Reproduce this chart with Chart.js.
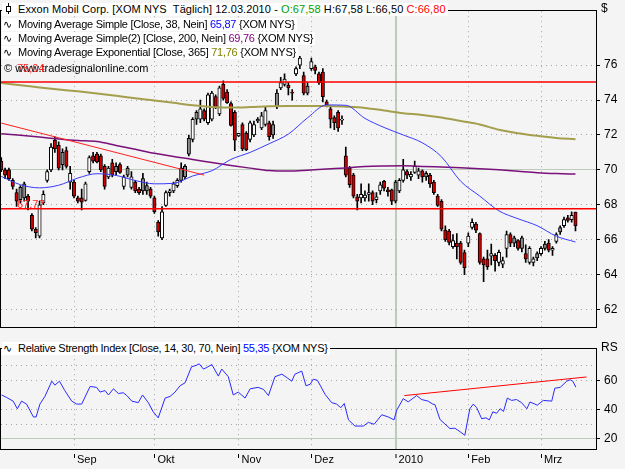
<!DOCTYPE html>
<html><head><meta charset="utf-8">
<script src="https://cdn.jsdelivr.net/npm/chart.js@4.4.0/dist/chart.umd.min.js"></script>
<style>
html,body{margin:0;padding:0;background:#f4f4f4;}
#wrap{position:relative;width:625px;height:469px;overflow:hidden;background:#f4f4f4;font-family:"Liberation Sans",Arial,sans-serif;font-size:11px;color:#000;}
canvas{position:absolute;left:0;}
#c1{top:0}
#c2{top:338px}
.lg{position:absolute;left:2px;white-space:nowrap;line-height:13px;height:13px;background:#fff;padding:0 2px 0 1px;letter-spacing:-0.27px;}
.lg.first{letter-spacing:0.08px;}
.ic{font-family:"DejaVu Sans";font-size:11px;display:inline-block;width:15px;letter-spacing:0;}
.txt{position:absolute;white-space:nowrap;line-height:13px;}
</style></head><body>
<div id="wrap">
<canvas id="c1" width="625" height="338"></canvas>
<canvas id="c2" width="625" height="131"></canvas>
<div class="lg first" style="top:3px"><svg width="15" height="11" style="vertical-align:-1px"><line x1="5.5" y1="0" x2="5.5" y2="11" stroke="#000"/><rect x="3.5" y="3.5" width="4" height="5" fill="#fff" stroke="#000"/></svg>Exxon Mobil Corp. [XOM NYS&nbsp; Täglich] 12.03.2010 - <span style="color:#00a000">O:67,58</span> H:67,58 L:66,50 <span style="color:#ff0000">C:66,80</span></div>
<div class="lg" style="top:18px"><span class="ic">∿</span>Moving Average Simple [Close, 38, Nein] <span style="color:#0000ff">65,87</span> {XOM NYS}</div>
<div class="lg" style="top:32px"><span class="ic">∿</span>Moving Average Simple(2) [Close, 200, Nein] <span style="color:#800080">69,76</span> {XOM NYS}</div>
<div class="lg" style="top:46px"><span class="ic">∿</span>Moving Average Exponential [Close, 365] <span style="color:#808000">71,76</span> {XOM NYS}</div>
<div class="txt" style="top:62px;left:4px">© www.tradesignalonline.com</div>
<div class="txt" style="top:62px;left:17px;color:#ff2020">75,04</div>
<div class="txt" style="top:198px;left:17px;color:#ff2020">67,77</div>
<div class="txt" style="top:2px;left:601px;font-size:12px">$</div>
<div class="lg" style="top:342px"><span class="ic">∿</span>Relative Strength Index [Close, 14, 30, 70, Nein] <span style="color:#0000ff">55,35</span> {XOM NYS}</div>
<div class="txt" style="top:341px;left:601px;font-size:12px">RS</div>
</div>
<script>
// ---- data (trading-day index 0 = first visible bar) ----
const opens = [70.5,70.0,70.0,69.4,68.7,69.0,69.2,68.5,67.4,66.6,66.2,68.1,69.4,70.0,71.7,71.4,71.0,71.1,69.3,69.3,
68.4,68.4,68.25,69.9,70.8,70.9,70.8,70.2,69.6,70.4,70.2,70.3,69.05,70.1,69.0,69.3,68.9,69.5,69.1,68.9,
68.4,67.0,66.1,67.97,68.7,68.8,69.1,70.1,70.2,71.8,71.75,73.3,72.9,73.4,72.7,72.9,74.2,73.2,74.9,74.45,
73.8,73.3,71.95,72.6,72.1,71.75,72.0,72.9,72.4,72.6,72.7,72.6,74.4,74.7,74.9,74.85,74.45,75.5,76.0,75.4,
74.8,75.8,75.9,75.5,75.6,73.9,73.5,73.0,73.3,72.85,70.8,70.1,69.7,68.45,68.4,68.4,68.6,68.7,68.3,68.8,
69.35,68.85,68.85,69.3,68.8,69.4,69.9,69.6,69.85,69.7,69.95,69.8,69.7,69.3,68.5,68.2,66.55,66.5,65.6,65.8,
65.8,65.26,65.8,66.7,66.9,66.35,64.9,64.9,65.05,65.1,64.7,64.6,65.5,66.3,66.1,65.95,66.1,65.2,64.7,64.7,
65.2,65.2,65.75,65.8,65.4,65.9,66.7,66.8,67.25,67.15,67.58];
const highs = [70.7,70.1,70.1,69.5,68.9,69.1,69.3,68.6,67.5,66.7,68.2,68.8,70.0,71.5,71.9,71.6,71.2,71.3,70.2,69.4,
68.5,68.9,69.3,70.8,71.0,71.0,70.9,70.3,70.2,70.6,70.4,70.4,69.7,70.2,69.9,69.4,69.0,69.8,69.3,69.0,
68.5,67.1,67.9,68.8,68.9,69.3,69.5,70.4,70.3,72.0,73.0,73.4,74.0,73.5,74.4,74.5,74.3,74.8,75.1,74.6,
73.9,73.4,72.1,72.7,72.2,72.8,72.8,73.0,73.3,73.6,72.8,72.8,74.6,75.3,75.5,75.0,74.6,75.9,76.5,75.6,
75.0,76.4,76.0,75.6,75.8,74.0,73.6,73.1,73.4,73.1,71.3,70.2,69.8,68.6,69.2,68.8,69.2,68.8,68.7,69.3,
69.4,69.0,68.9,69.4,69.5,70.6,70.0,69.9,70.5,70.1,70.0,69.9,69.8,69.4,68.6,68.3,66.8,66.6,66.3,66.35,
65.9,65.4,66.4,67.2,67.0,66.4,65.0,65.4,65.75,65.2,65.4,65.0,66.5,66.4,66.2,66.0,66.2,65.7,65.6,65.0,
65.3,65.6,65.9,66.0,65.6,66.4,66.8,67.3,67.4,67.6,67.58];
const lows = [69.9,69.5,69.4,68.9,67.9,68.1,68.2,67.7,66.5,66.1,66.1,68.0,69.3,69.9,71.0,70.0,70.0,70.1,68.9,68.4,
68.1,67.7,68.2,69.8,70.4,70.4,69.9,68.9,69.5,69.6,69.7,69.8,68.9,69.6,68.9,68.7,68.6,68.6,68.6,68.4,
67.5,66.2,66.0,67.9,68.5,68.7,69.0,69.3,69.5,70.8,71.6,72.6,72.7,72.8,72.6,72.8,73.5,73.1,74.0,73.8,
72.5,71.1,71.9,71.1,71.1,71.6,71.9,72.7,72.3,72.5,71.7,71.8,73.5,74.6,74.8,74.3,74.0,75.4,75.8,74.3,
74.3,75.7,75.5,74.9,73.9,73.6,72.4,72.3,72.2,72.6,69.6,69.0,68.4,67.7,68.1,68.2,68.2,68.0,68.1,68.6,
68.8,68.5,68.0,68.1,68.7,69.3,69.5,69.4,69.8,69.5,69.3,69.4,69.0,68.6,67.9,66.5,65.9,65.7,65.5,64.9,
64.6,64.0,65.6,66.6,66.4,64.6,63.6,64.3,64.55,64.2,64.5,64.4,65.0,65.6,65.6,65.4,65.3,64.7,64.6,64.5,
64.8,65.1,65.4,65.3,65.1,65.8,66.3,66.7,67.0,67.0,66.5];
const closes = [70.0,69.7,69.5,69.05,68.2,68.3,68.4,68.2,66.6,66.4,68.0,68.6,69.9,71.3,71.2,70.1,70.3,70.2,69.8,68.5,
68.2,68.15,69.2,70.7,70.5,70.45,70.0,69.05,70.1,69.7,69.9,69.85,69.6,69.7,69.6,68.8,68.7,68.8,68.8,68.5,
67.6,66.45,67.6,68.7,68.8,69.2,69.4,69.4,69.6,70.9,72.9,72.9,73.5,72.9,74.3,74.4,73.6,74.7,74.1,73.85,
72.55,71.7,72.1,71.2,71.15,72.7,72.6,72.8,73.1,73.4,71.9,72.0,73.6,75.0,75.2,74.7,74.4,75.8,76.4,74.4,
74.4,76.2,75.7,75.0,74.2,73.7,72.9,72.7,72.4,72.9,69.7,69.15,68.5,68.2,68.6,68.55,68.7,68.2,68.45,69.15,
68.95,68.75,68.2,68.2,69.4,70.0,69.7,69.75,70.2,69.95,69.6,69.6,69.2,68.7,67.97,66.6,66.0,65.85,65.95,65.6,
64.7,64.4,66.2,67.0,66.55,64.7,64.55,64.45,65.2,64.8,65.27,64.8,66.3,65.8,65.8,65.5,65.5,64.9,65.5,64.9,
64.95,65.5,65.5,65.4,65.5,66.3,66.45,67.15,67.1,67.4,66.8];

// moving averages, read at every 5th bar
const maIdx  = [0,5,10,15,20,25,30,35,40,45,50,55,60,65,70,75,80,85,90,95,100,105,110,115,120,125,130,135,140,145,150];
const ma38   = [69.63,69.15,68.97,69.12,69.53,69.78,69.68,69.39,69.2,69.23,69.65,69.95,70.6,71.0,71.5,72.05,72.98,73.72,73.7,72.95,72.43,72.0,71.55,70.75,69.35,68.5,67.65,67.2,66.8,66.2,65.87];
const sma200 = [72.07,71.98,71.88,71.77,71.68,71.62,71.4,71.18,70.95,70.76,70.6,70.42,70.25,70.1,69.96,69.93,69.98,70.05,70.11,70.19,70.22,70.23,70.2,70.16,70.12,70.07,70.0,69.92,69.84,69.79,69.76];
const ema365 = [74.97,74.85,74.72,74.6,74.5,74.38,74.25,74.1,73.98,73.84,73.7,73.6,73.57,73.6,73.65,73.66,73.66,73.66,73.62,73.55,73.4,73.25,73.15,73.0,72.8,72.6,72.3,72.1,71.95,71.83,71.76];

// drawn lines
const levels = [75.04, 67.77];
const trendIdx = [0, 53];
const trendVal = [72.68, 69.7];

// RSI
const rsiIdx = [0.1,1.4,3.1,4.2,5.3,6.6,8.4,9.1,10.1,11.4,13.2,14.0,15.2,16.6,18.4,19.7,21.0,23.2,24.9,25.8,
27.1,28.0,29.3,30.6,31.9,32.8,34.1,35.8,36.9,38.4,39.7,41.0,42.8,44.1,45.4,46.7,48.0,49.7,51.1,51.7,
52.8,53.7,55.0,56.7,57.6,59.3,60.6,61.9,63.7,65.0,67.1,68.5,69.8,71.5,73.3,74.6,75.9,76.7,78.5,79.6,
80.7,81.5,82.6,84.6,86.3,87.6,88.7,89.6,90.7,92.4,94.6,95.9,97.4,99.4,101.1,102.6,103.3,105.0,106.3,108.5,
109.8,111.5,112.7,113.3,114.6,115.9,117.2,118.5,119.8,121.1,122.4,123.3,124.2,125.5,126.6,127.5,128.4,129.4,130.3,131.2,
132.2,133.3,134.6,135.9,137.3,138.1,139.4,140.0,141.6,143.8,144.6,146.0,147.7,148.6,149.3,150.1];
const rsiVal = [50,48.3,45.8,40.6,45.8,43.8,35,35,43.8,49,59.4,56.7,59.4,53,45.8,43.8,43.8,55.8,55.2,52,
53,50,54.2,51,51.5,49.6,45.8,44.8,50,44.8,38.5,34.4,47.9,49,52,56.3,58.3,69.2,70.4,71.3,
67.7,68.8,70.8,62.9,67.7,62.5,50,52,47.9,54.2,55.2,53.8,49.6,62.5,64.2,61.9,59.4,64.2,66.3,56.3,
57.3,60.8,60,50.4,44.8,43.8,41.3,44.2,33,28.8,28.8,31.3,30,36.5,35,33,39.6,47.5,45.3,49.6,
46.9,45.8,43.8,43.4,33.3,30.2,27.1,27.3,25,22.5,40.6,43.8,41.3,33.8,34.4,33,38.5,37.5,40.6,38.8,
47.9,46.3,46.9,44.8,40.6,45.2,43.8,43,46.3,45.8,54.6,55.2,59.4,60.4,59.4,55.35];
const rsiTrendIdx = [105.3, 152.9];
const rsiTrendVal = [49.6, 62.3];

// axes
const monthIdx = [19, 40, 62, 81, 103, 122, 141];
const monthLabels = ['Sep','Okt','Nov','Dez','2010','Feb','Mrz'];
const priceTicks = [62,64,66,68,70,72,74,76];
const rsiTicks = [20,30,40,60,70];
const rsiLabelTicks = [20,40,60];

// ---- drawing ----
const X_MIN = -0.07, X_MAX = 155.36;
const GRID = '#a4a4a4', SOLIDGRID = '#bccbbc';
Chart.defaults.font.family = '"Liberation Sans", Arial, sans-serif';
Chart.defaults.color = '#000';

const frame = {
  id: 'frame',
  afterDraw(chart) {
    const a = chart.chartArea, c = chart.ctx;
    c.save(); c.strokeStyle = '#000'; c.lineWidth = 1;
    c.strokeRect(Math.round(a.left) - 0.5, Math.round(a.top) - 0.5, Math.round(a.right - a.left) + 1, Math.round(a.bottom - a.top) + 1);
    c.restore();
  }
};

function xAxis(showLabels) {
  return {
    type: 'linear', min: X_MIN, max: X_MAX, offset: false,
    afterBuildTicks: s => { s.ticks = monthIdx.map(v => ({ value: v })); },
    afterFit: s => { s.height = showLabels ? 20 : 0; },
    ticks: showLabels ? {
      display: true, autoSkip: false, maxRotation: 0, minRotation: 0, align: 'start', labelOffset: 3, padding: -5,
      font: { size: 11 }, color: '#000',
      callback: v => { const k = monthIdx.indexOf(v); return k >= 0 ? monthLabels[k] : ''; }
    } : { display: false },
    grid: {
      offset: false, drawTicks: showLabels, tickLength: 9, tickColor: '#000', tickWidth: 1, tickBorderDash: [0, 5, 4, 30],
      color: c => (c.tick && c.tick.value === 103) ? SOLIDGRID : GRID,
      lineWidth: c => (c.tick && c.tick.value === 103) ? 2 : 1
    },
    border: { display: false, dash: c => (c.tick && c.tick.value === 103) ? [] : [1, 4] }
  };
}

function pts(xs, ys) { return xs.map((x, i) => ({ x: x, y: ys[i] })); }
function bodyColor(ctx) {
  const i = ctx.dataIndex;
  if (closes[i] > opens[i]) return '#ffffff';
  const pc = i > 0 ? closes[i - 1] : Infinity;
  return closes[i] >= pc ? '#8c8c8c' : '#d00000';
}
function lineDs(data, color, width, order, mono) {
  return { type: 'line', data: data, borderColor: color, borderWidth: width, pointRadius: 0, fill: false,
           cubicInterpolationMode: mono ? 'monotone' : 'default', tension: 0, order: order };
}

new Chart(document.getElementById('c1'), {
  type: 'bar',
  data: { datasets: [
    { type: 'bar', data: highs.map((h, i) => ({ x: i, y: [lows[i], h] })), backgroundColor: '#000', barThickness: 1, grouped: false, order: 20 },
    { type: 'bar', data: opens.map((o, i) => ({ x: i, y: [o, closes[i]] })), backgroundColor: bodyColor, borderColor: '#000',
      borderWidth: 1, borderSkipped: false, barThickness: 3.4, grouped: false, order: 15 },
    lineDs(pts(maIdx, ema365), '#a39f4c', 2, 5, true),
    lineDs(pts(maIdx, sma200), '#7a107a', 1.5, 4, true),
    lineDs(pts(maIdx, ma38), '#3a3aff', 1, 3, true),
    lineDs(pts(trendIdx, trendVal), '#ff2020', 1, 2, false),
    lineDs([{ x: X_MIN, y: levels[0] }, { x: X_MAX, y: levels[0] }], '#ff0000', 1.5, 1, false),
    lineDs([{ x: X_MIN, y: levels[1] }, { x: X_MAX, y: levels[1] }], '#ff0000', 1.5, 1, false)
  ] },
  options: {
    responsive: false, animation: false, devicePixelRatio: 1,
    layout: { padding: { left: 1, top: 1, right: 0, bottom: 2 } },
    plugins: { legend: { display: false }, tooltip: { enabled: false } },
    scales: {
      x: xAxis(false),
      y: {
        position: 'right', min: 61.01, max: 79.09,
        afterBuildTicks: s => { s.ticks = priceTicks.map(v => ({ value: v })); },
        afterFit: s => { s.width = 29; },
        ticks: { padding: 4, font: { size: 12 }, color: '#000', callback: v => String(v) },
        grid: { drawTicks: true, tickLength: 4, tickColor: '#000', tickWidth: 1, tickBorderDash: [],
                color: c => (c.tick && c.tick.value === 70) ? SOLIDGRID : GRID },
        border: { display: false, dash: c => (c.tick && c.tick.value === 70) ? [] : [1, 4] }
      }
    }
  },
  plugins: [frame]
});

new Chart(document.getElementById('c2'), {
  type: 'line',
  data: { datasets: [
    lineDs(pts(rsiIdx, rsiVal), '#2a2aff', 1, 2, false),
    lineDs(pts(rsiTrendIdx, rsiTrendVal), '#ff0000', 1, 1, false)
  ] },
  options: {
    responsive: false, animation: false, devicePixelRatio: 1,
    layout: { padding: { left: 1, top: 2, right: 0, bottom: 0 } },
    plugins: { legend: { display: false }, tooltip: { enabled: false } },
    scales: {
      x: xAxis(true),
      y: {
        position: 'right', min: 13.125, max: 81.25,
        afterBuildTicks: s => { s.ticks = rsiTicks.map(v => ({ value: v })); },
        afterFit: s => { s.width = 29; },
        ticks: { padding: 4, font: { size: 12 }, color: '#000', callback: v => rsiLabelTicks.includes(v) ? String(v) : '' },
        grid: { drawTicks: true, tickLength: 4, tickWidth: 1, tickBorderDash: [],
                tickColor: c => (c.tick && rsiLabelTicks.includes(c.tick.value)) ? '#000' : 'rgba(0,0,0,0)',
                color: c => (c.tick && c.tick.value === 20) ? SOLIDGRID : GRID },
        border: { display: false, dash: c => (c.tick && c.tick.value === 20) ? [] : [1, 4] }
      }
    }
  },
  plugins: [frame]
});
</script>
</body></html>
